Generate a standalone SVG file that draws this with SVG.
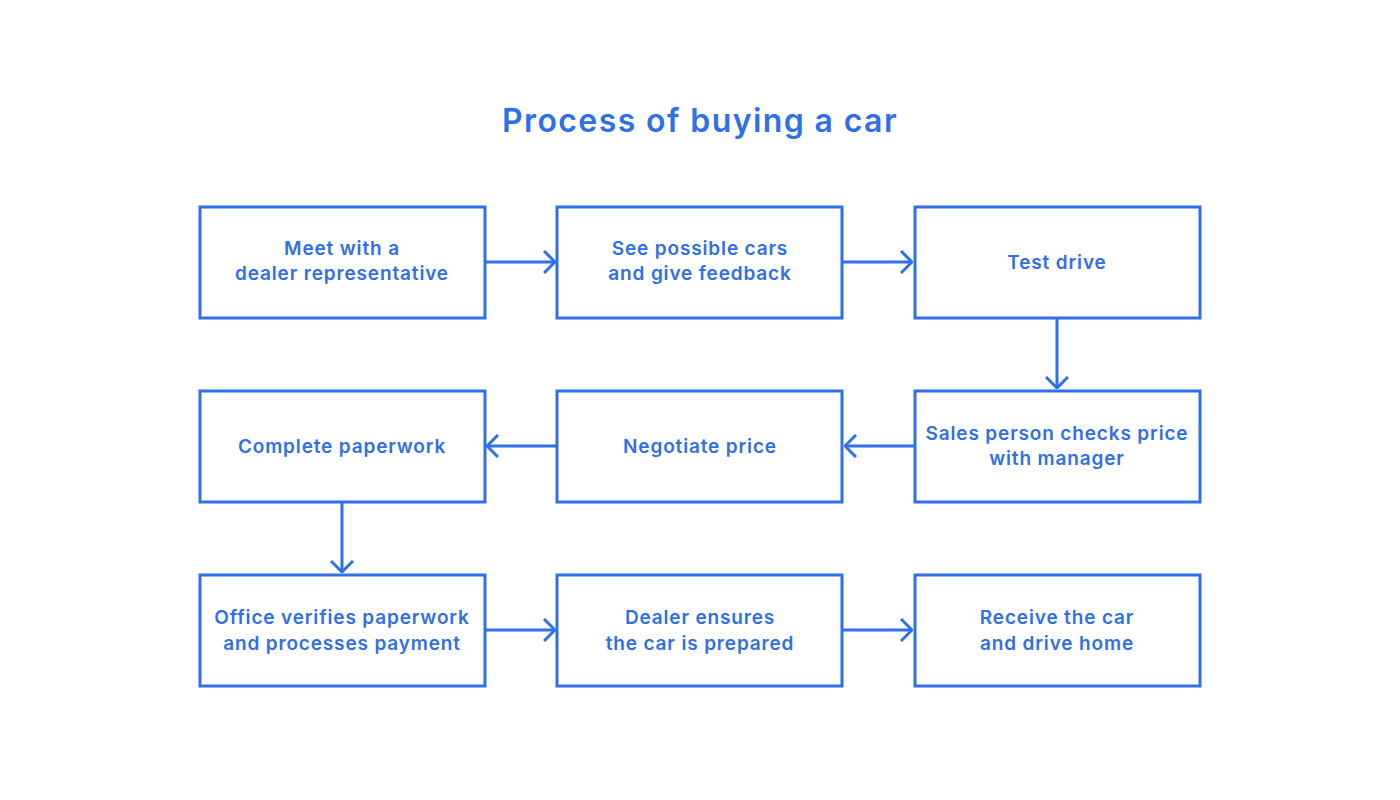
<svg xmlns="http://www.w3.org/2000/svg" width="1400" height="800" viewBox="0 0 1400 800">
<style>
.box{fill:#fff;stroke:#2F6FE8;stroke-width:3}
.t{font-family:Inter,"Open Sans","Liberation Sans",sans-serif;font-weight:600;font-size:19px;fill:#2F6FE8;text-anchor:middle;letter-spacing:0.85px}
.title{font-family:Inter,"Open Sans","Liberation Sans",sans-serif;font-weight:600;font-size:32px;fill:#2F6FE8;text-anchor:middle;letter-spacing:1.4px}
.c{fill:none;stroke:#2F6FE8;stroke-width:3}
</style>
<defs>
<marker id="ah" viewBox="0 0 13 24" refX="12" refY="12" markerWidth="13" markerHeight="24" markerUnits="userSpaceOnUse" orient="auto">
<path d="M1,1 L12,12 L1,23" fill="none" stroke="#2F6FE8" stroke-width="3"/>
</marker>
</defs>
<rect width="1400" height="800" fill="#fff"/>
<text class="title" x="700" y="132">Process of buying a car</text>
<g id="connectors">
<line class="c" x1="486" y1="262" x2="555" y2="262" marker-end="url(#ah)"/>
<line class="c" x1="843" y1="262" x2="912" y2="262" marker-end="url(#ah)"/>
<line class="c" x1="1057" y1="319" x2="1057" y2="388" marker-end="url(#ah)"/>
<line class="c" x1="914" y1="446" x2="845" y2="446" marker-end="url(#ah)"/>
<line class="c" x1="556" y1="446" x2="487" y2="446" marker-end="url(#ah)"/>
<line class="c" x1="342" y1="503" x2="342" y2="572" marker-end="url(#ah)"/>
<line class="c" x1="486" y1="630" x2="555" y2="630" marker-end="url(#ah)"/>
<line class="c" x1="843" y1="630" x2="912" y2="630" marker-end="url(#ah)"/>
</g>
<g id="n1"><rect class="box" x="200" y="207" width="285" height="111"/><text class="t" x="342" y="255">Meet with a</text><text class="t" x="342" y="280">dealer representative</text></g>
<g id="n2"><rect class="box" x="557" y="207" width="285" height="111"/><text class="t" x="700" y="255">See possible cars</text><text class="t" x="700" y="280">and give feedback</text></g>
<g id="n3"><rect class="box" x="915" y="207" width="285" height="111"/><text class="t" x="1057" y="269">Test drive</text></g>
<g id="n4"><rect class="box" x="915" y="391" width="285" height="111"/><text class="t" x="1057" y="440">Sales person checks price</text><text class="t" x="1057" y="465">with manager</text></g>
<g id="n5"><rect class="box" x="557" y="391" width="285" height="111"/><text class="t" x="700" y="453">Negotiate price</text></g>
<g id="n6"><rect class="box" x="200" y="391" width="285" height="111"/><text class="t" x="342" y="453">Complete paperwork</text></g>
<g id="n7"><rect class="box" x="200" y="575" width="285" height="111"/><text class="t" x="342" y="624">Office verifies paperwork</text><text class="t" x="342" y="650">and processes payment</text></g>
<g id="n8"><rect class="box" x="557" y="575" width="285" height="111"/><text class="t" x="700" y="624">Dealer ensures</text><text class="t" x="700" y="650">the car is prepared</text></g>
<g id="n9"><rect class="box" x="915" y="575" width="285" height="111"/><text class="t" x="1057" y="624">Receive the car</text><text class="t" x="1057" y="650">and drive home</text></g>
</svg>
